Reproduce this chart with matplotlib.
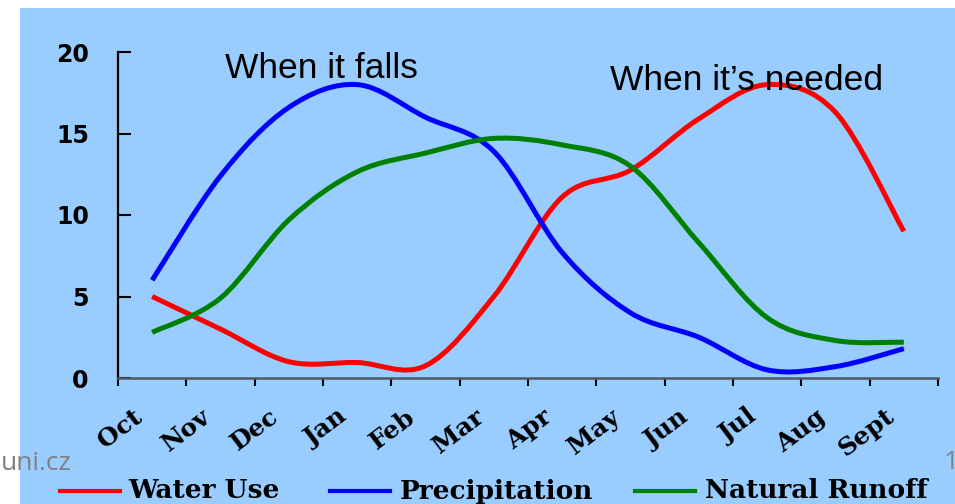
import numpy as np
import matplotlib
matplotlib.use("Agg")
import matplotlib.pyplot as plt
from matplotlib.path import Path
from matplotlib.patches import PathPatch, Rectangle
from matplotlib.lines import Line2D
import matplotlib.transforms as mtransforms

# Monthly values (water year Oct - Sept)
months = ["Oct", "Nov", "Dec", "Jan", "Feb", "Mar",
          "Apr", "May", "Jun", "Jul", "Aug", "Sept"]
water_use = [5.0, 3.0, 1.0, 0.95, 0.75, 5.0, 11.1, 12.75, 15.9, 18.0, 16.3, 9.0]
precipitation = [6.0, 12.4, 16.6, 18.0, 16.0, 13.9, 7.7, 4.0, 2.5, 0.5, 0.7, 1.8]
natural_runoff = [2.8, 4.9, 9.7, 12.65, 13.8, 14.7, 14.3, 13.0, 8.3, 3.7, 2.3, 2.2]

series = [
    ("Water Use", water_use, "#ff0000"),
    ("Precipitation", precipitation, "#0000ff"),
    ("Natural Runoff", natural_runoff, "#008000"),
]

BG = "#99ccff"


def smooth_path(x, y):
    # smoothed line (Bezier through every point, like a spreadsheet "smooth line")
    pts = np.column_stack([x, y]).astype(float)
    n = len(pts)
    verts = [pts[0]]
    codes = [Path.MOVETO]
    for i in range(n - 1):
        p0 = pts[i - 1] if i > 0 else pts[i]
        p1 = pts[i]
        p2 = pts[i + 1]
        p3 = pts[i + 2] if i + 2 < n else pts[i + 1]
        verts += [p1 + (p2 - p0) / 6, p2 - (p3 - p1) / 6, p2]
        codes += [Path.CURVE4] * 3
    return Path(verts, codes)


fig = plt.figure(figsize=(9.55, 5.04), dpi=100)
fig.patch.set_facecolor("white")
fig.patches.append(Rectangle((20 / 955, 0), 1 - 20 / 955, 496 / 504,
                             transform=fig.transFigure, facecolor=BG,
                             edgecolor="none", zorder=-1))

ax = fig.add_axes([118 / 955, 126 / 504, 820 / 955, 326 / 504])
ax.set_facecolor(BG)

x = np.arange(len(months)) + 0.5
for name, vals, color in series:
    ax.add_patch(PathPatch(smooth_path(x, vals), fill=False, edgecolor=color,
                           lw=3.6, capstyle="butt", joinstyle="round", zorder=3))

ax.set_xlim(0, 12)
ax.set_ylim(0, 20)

for side in ["top", "right"]:
    ax.spines[side].set_visible(False)
ax.spines["left"].set_color("black")
ax.spines["left"].set_linewidth(1.6)
ax.spines["bottom"].set_color("#4f5862")
ax.spines["bottom"].set_linewidth(1.8)

ax.set_yticks([0, 5, 10, 15, 20])
ax.tick_params(axis="y", direction="in", length=9, width=1.5, pad=21,
               labelsize=17, colors="black")
for lab in ax.get_yticklabels():
    lab.set_fontfamily("DejaVu Sans")
    lab.set_fontweight("bold")

ax.set_xticks(np.arange(13))
ax.set_xticklabels([])
ax.tick_params(axis="x", which="major", direction="out", length=6, width=1.5,
               color="black")
ax.set_xticks(x, minor=True)
ax.set_xticklabels(months, minor=True, rotation=37, ha="right",
                   rotation_mode="anchor", fontsize=18,
                   fontfamily="DejaVu Serif", fontweight="bold")
ax.tick_params(axis="x", which="minor", length=0, pad=19)
shift = mtransforms.ScaledTranslation(-20 / 100, 0, fig.dpi_scale_trans)
for lab in ax.xaxis.get_minorticklabels():
    lab.set_transform(lab.get_transform() + shift)

# headings over the curves
fig.text(225 / 955, 1 - 78 / 504, "When it falls", fontsize=25.5,
         fontfamily="Liberation Sans", va="baseline", ha="left", zorder=5)
fig.text(610 / 955, 1 - 90 / 504, "When it\u2019s needed", fontsize=25.5,
         fontfamily="Liberation Sans", va="baseline", ha="left", zorder=5)

# legend strip along the bottom
legend_x = [(60, 128), (330, 400), (635, 705)]
ly = 1 - 491 / 504
for (lx, tx), (name, vals, color) in zip(legend_x, series):
    fig.lines.append(Line2D([lx / 955, (lx + 60) / 955], [ly, ly],
                            transform=fig.transFigure, color=color, lw=3))
    fig.text(tx / 955, ly, name, fontsize=19, fontfamily="DejaVu Serif",
             fontweight="bold", va="center", ha="left")

# slide footer remnants
fig.text(72 / 955, 1 - 470 / 504, "uni.cz", fontsize=19, color="#808080",
         fontfamily="Open Sans", ha="right", va="baseline")
fig.text(944 / 955, 1 - 469 / 504, "1", fontsize=19, color="#808080",
         fontfamily="Open Sans", ha="left", va="baseline")

fig.savefig("out.png", dpi=100, facecolor=fig.get_facecolor())
